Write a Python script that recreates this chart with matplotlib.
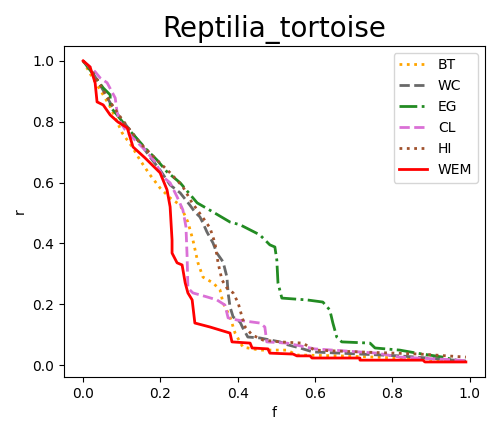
"""
Recall curves r(f) for Reptilia_tortoise, one line per method.
"""

import matplotlib
matplotlib.use('Agg')
import matplotlib.pyplot as plt


# ── data ───────────────────────────────────────────────────────────────────
BT_F = [0.0, 0.023, 0.044, 0.070, 0.101, 0.127, 0.147, 0.173, 0.199, 0.225,
        0.251, 0.271, 0.284, 0.297, 0.310, 0.336, 0.354, 0.362, 0.380, 0.393,
        0.413, 0.457, 0.527, 0.553, 0.664, 0.819, 0.99]
BT_R = [1.0, 0.947, 0.905, 0.849, 0.763, 0.717, 0.674, 0.625, 0.582, 0.549,
        0.526, 0.470, 0.411, 0.336, 0.289, 0.270, 0.247, 0.204, 0.158, 0.105,
        0.059, 0.049, 0.049, 0.033, 0.030, 0.023, 0.013]

WC_F = [0.0, 0.023, 0.044, 0.070, 0.096, 0.121, 0.147, 0.173, 0.199, 0.225,
        0.251, 0.276, 0.289, 0.302, 0.310, 0.320, 0.336, 0.346, 0.362, 0.372,
        0.375, 0.380, 0.388, 0.406, 0.413, 0.426, 0.457, 0.509, 0.530, 0.561,
        0.594, 0.716, 0.819, 0.922, 0.99]
WC_R = [1.0, 0.964, 0.921, 0.862, 0.812, 0.773, 0.730, 0.684, 0.641, 0.592,
        0.566, 0.526, 0.503, 0.487, 0.467, 0.438, 0.401, 0.368, 0.339, 0.289,
        0.237, 0.191, 0.158, 0.141, 0.122, 0.092, 0.089, 0.076, 0.066, 0.056,
        0.043, 0.036, 0.030, 0.020, 0.013]

EG_F = [0.0, 0.023, 0.052, 0.070, 0.070, 0.088, 0.114, 0.142, 0.165, 0.191,
        0.217, 0.251, 0.295, 0.336, 0.380, 0.406, 0.457, 0.483, 0.496, 0.501,
        0.504, 0.514, 0.579, 0.620, 0.638, 0.646, 0.656, 0.669, 0.742, 0.755,
        0.819, 0.863, 0.930, 0.974]
EG_R = [1.0, 0.961, 0.911, 0.888, 0.849, 0.822, 0.780, 0.740, 0.707, 0.674,
        0.635, 0.599, 0.533, 0.503, 0.470, 0.461, 0.428, 0.395, 0.388, 0.345,
        0.270, 0.220, 0.214, 0.207, 0.181, 0.138, 0.092, 0.076, 0.072, 0.056,
        0.049, 0.039, 0.026, 0.013]

CL_F = [0.0, 0.031, 0.044, 0.062, 0.083, 0.088, 0.096, 0.109, 0.134, 0.160,
        0.186, 0.207, 0.225, 0.243, 0.258, 0.266, 0.269, 0.271, 0.284, 0.320,
        0.346, 0.367, 0.375, 0.398, 0.457, 0.470, 0.475, 0.527, 0.599, 0.760,
        0.819, 0.974, 0.99]
CL_R = [1.0, 0.964, 0.944, 0.928, 0.878, 0.829, 0.799, 0.773, 0.740, 0.707,
        0.668, 0.618, 0.599, 0.553, 0.510, 0.454, 0.355, 0.253, 0.237, 0.224,
        0.214, 0.197, 0.155, 0.148, 0.138, 0.125, 0.076, 0.072, 0.053, 0.039,
        0.026, 0.016, 0.013]

HI_F = [0.0, 0.023, 0.044, 0.070, 0.096, 0.121, 0.147, 0.173, 0.199, 0.225,
        0.258, 0.282, 0.310, 0.328, 0.341, 0.349, 0.359, 0.372, 0.388, 0.401,
        0.411, 0.419, 0.437, 0.465, 0.509, 0.568, 0.599, 0.716, 0.871, 0.99]
HI_R = [1.0, 0.967, 0.921, 0.865, 0.816, 0.773, 0.730, 0.697, 0.664, 0.632,
        0.586, 0.533, 0.484, 0.451, 0.401, 0.336, 0.280, 0.253, 0.237, 0.204,
        0.158, 0.125, 0.099, 0.082, 0.076, 0.072, 0.049, 0.043, 0.036, 0.026]

WEM_F = [0.0, 0.018, 0.031, 0.036, 0.052, 0.070, 0.090, 0.114, 0.129, 0.160,
         0.199, 0.217, 0.225, 0.230, 0.230, 0.243, 0.256, 0.264, 0.271, 0.282,
         0.289, 0.328, 0.354, 0.380, 0.385, 0.432, 0.437, 0.478, 0.483, 0.543,
         0.553, 0.587, 0.592, 0.716, 0.716, 0.879, 0.884, 0.99]
WEM_R = [1.0, 0.980, 0.928, 0.865, 0.855, 0.822, 0.799, 0.780, 0.717, 0.681,
         0.632, 0.576, 0.520, 0.411, 0.368, 0.336, 0.329, 0.270, 0.237, 0.214,
         0.138, 0.125, 0.115, 0.105, 0.076, 0.072, 0.056, 0.053, 0.039, 0.036,
         0.030, 0.030, 0.023, 0.023, 0.016, 0.016, 0.010, 0.010]

# (label, f, r, colour, linestyle)
SERIES = [
    ('BT',  BT_F,  BT_R,  'orange',      ':'),
    ('WC',  WC_F,  WC_R,  'dimgray',     '--'),
    ('EG',  EG_F,  EG_R,  'forestgreen', '-.'),
    ('CL',  CL_F,  CL_R,  'orchid',      '--'),
    ('HI',  HI_F,  HI_R,  'sienna',      ':'),
    ('WEM', WEM_F, WEM_R, 'red',         '-'),
]


def main():
    fig = plt.figure(figsize=(4.87, 4.24), dpi=100)
    ax = fig.add_axes([0.1314, 0.1108, 0.8645, 0.7812])

    for label, f, r, color, ls in SERIES:
        ax.plot(f, r, color=color, linestyle=ls, linewidth=2, label=label)

    ax.set_title('Reptilia_tortoise', fontsize=20)
    ax.set_xlabel('f')
    ax.set_ylabel('r')
    ax.legend(loc='upper right')

    fig.savefig('out.png', dpi=100)


if __name__ == '__main__':
    main()
